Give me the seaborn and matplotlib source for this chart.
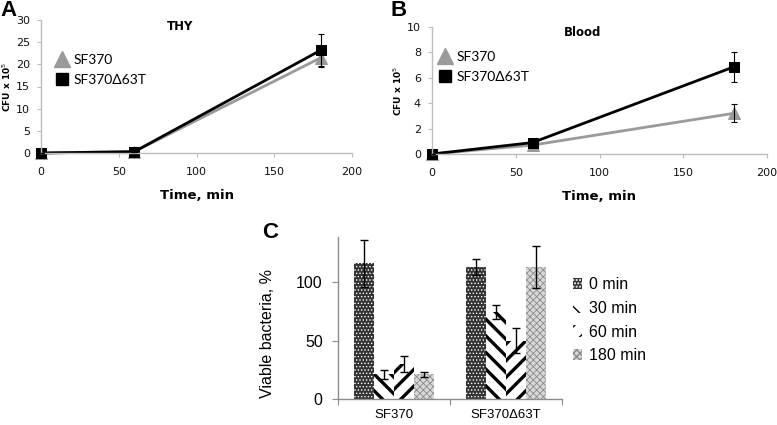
import numpy as np
import pandas as pd
import matplotlib
matplotlib.use("Agg")
import matplotlib.pyplot as plt
import seaborn as sns
from matplotlib.lines import Line2D

# ---------------- data ----------------
times = [0, 60, 180]
strains = ["SF370", "SF370\u039463T"]

thy_sf370 = [0.0, 0.3, 21.5]
thy_sf370_err = [0.0, 0.0, 2.0]
thy_mut = [0.0, 0.3, 23.2]
thy_mut_err = [0.0, 0.0, 3.6]

blood_sf370 = [0.0, 0.7, 3.2]
blood_sf370_err = [0.0, 0.0, 0.7]
blood_mut = [0.0, 0.9, 6.85]
blood_mut_err = [0.0, 0.0, 1.2]

c_times = ["0 min", "30 min", "60 min", "180 min"]
viable_sf370 = [116, 21, 30, 21]
viable_sf370_err = [20, 4, 7, 2]
viable_mut = [113, 74, 50, 113]
viable_mut_err = [7, 6, 11, 18]

# ---------------- style ----------------
sns.set_theme(style="white")
plt.rcParams["font.family"] = ["DejaVu Sans"]
plt.rcParams["text.color"] = "black"
plt.rcParams["axes.labelcolor"] = "black"
GRAY = "#9a9a9a"
SPINE = "#bdbdbd"
palette = {strains[0]: GRAY, strains[1]: "#000000"}

fig = plt.figure(figsize=(7.77, 4.25), dpi=100)
W, H = 777, 425


def ax_at(l, t, r, b):
    return fig.add_axes([l / W, 1 - b / H, (r - l) / W, (b - t) / H])


def line_panel(ax, s1, e1, s2, e2, ymax, ystep, title, tx, ty, ylx):
    df = pd.DataFrame({
        "time": times * 2,
        "cfu": list(s1) + list(s2),
        "strain": [strains[0]] * 3 + [strains[1]] * 3,
    })
    sns.lineplot(data=df, x="time", y="cfu", hue="strain", style="strain",
                 hue_order=strains, style_order=strains,
                 markers={strains[0]: "^", strains[1]: "s"}, dashes=False,
                 palette=palette, linewidth=2.0, legend=False, ax=ax)
    for ln, ms in zip(ax.lines, [8, 7]):
        ln.set_markersize(ms)
        ln.set_markeredgecolor(ln.get_color())
        ln.set_clip_on(False)
    ax.errorbar(times, s1, yerr=e1, fmt="none", ecolor="black", elinewidth=0.8,
                capsize=2.5, capthick=0.8, zorder=5)
    ax.errorbar(times, s2, yerr=e2, fmt="none", ecolor="black", elinewidth=0.8,
                capsize=2.5, capthick=0.8, zorder=5)
    ax.set_xlim(0, 200)
    ax.set_ylim(0, ymax)
    ax.set_xticks([0, 50, 100, 150, 200])
    ax.set_yticks(np.arange(0, ymax + 0.01, ystep))
    for s in ["top", "right"]:
        ax.spines[s].set_visible(False)
    for s in ["left", "bottom"]:
        ax.spines[s].set_color(SPINE)
        ax.spines[s].set_linewidth(1.0)
    ax.tick_params(axis="both", which="both", direction="out", length=3, width=0.8,
                   color=SPINE, labelsize=8, labelcolor="#111111",
                   left=True, bottom=True)
    ax.tick_params(axis="x", pad=7)
    ax.tick_params(axis="y", pad=5)
    ax.set_xlabel("Time, min", fontsize=9.5, fontweight="bold", labelpad=9)
    ax.set_ylabel(r"CFU x 10$^5$", fontsize=6.5, fontweight="bold")
    ax.yaxis.set_label_coords(ylx, 0.5)
    ax.text(tx, ty, title, transform=ax.transAxes, ha="center", va="center",
            fontsize=8.5, fontweight="bold")


axA = ax_at(41, 20, 352, 153)
line_panel(axA, thy_sf370, thy_sf370_err, thy_mut, thy_mut_err, 30, 5,
           "THY", (180 - 41) / 311, 1 - (26 - 20) / 133, (13 - 41) / 311)
axB = ax_at(432, 27, 767, 154)
line_panel(axB, blood_sf370, blood_sf370_err, blood_mut, blood_mut_err, 10, 2,
           "Blood", (583 - 432) / 335, 1 - (32 - 27) / 127, (404 - 432) / 335)

leg_handles = [
    Line2D([], [], marker="^", ls="none", color=GRAY, markersize=11),
    Line2D([], [], marker="s", ls="none", color="black", markersize=8.5),
]
for ax, x0, y0 in [(axA, 55, 54), (axB, 438, 51)]:
    ax.legend(leg_handles, strains, loc="upper left", frameon=False,
              bbox_to_anchor=(x0 / W, 1 - y0 / H), bbox_transform=fig.transFigure,
              prop={"family": "Lato", "size": 10}, handlelength=1.0,
              handletextpad=0.3, labelspacing=0.55, borderpad=0, borderaxespad=0)

# ---------------- panel C ----------------
axC = ax_at(338, 237, 562, 399)
dfc = pd.DataFrame({
    "strain": [strains[0]] * 4 + [strains[1]] * 4,
    "time": c_times * 2,
    "viable": viable_sf370 + viable_mut,
})
sns.barplot(data=dfc, x="strain", y="viable", hue="time", order=strains,
            hue_order=c_times, errorbar=None, width=0.72, legend=False,
            ax=axC)

styles = [
    dict(face="#333333", hatch=".....", hc="#ffffff", hlw=0.6),
    dict(face="#ffffff", hatch="\\\\", hc="#000000", hlw=2.4),
    dict(face="#ffffff", hatch="//", hc="#000000", hlw=2.4),
    dict(face="#d8d8d8", hatch="xxxxx", hc="#8a8a8a", hlw=0.6),
]
errs = [viable_sf370_err, viable_mut_err]
vals = [viable_sf370, viable_mut]
bar_conts = list(axC.containers)
for i, cont in enumerate(bar_conts):
    st = styles[i]
    for j, bar in enumerate(cont):
        bar.set_facecolor(st["face"])
        bar.set_edgecolor(st["hc"])
        bar.set_linewidth(0)
        bar.set_hatch(st["hatch"])
        if hasattr(bar, "set_hatch_linewidth"):
            bar.set_hatch_linewidth(st["hlw"])
        cx = bar.get_x() + bar.get_width() / 2
        axC.errorbar([cx], [vals[j][i]], yerr=[errs[j][i]], fmt="none",
                     ecolor="black", elinewidth=1.0, capsize=3, capthick=1.0,
                     zorder=5)

axC.set_xlim(-0.5, 1.5)
axC.set_ylim(0, 138.5)
axC.set_yticks([0, 50, 100])
axC.set_xticks([0, 1])
axC.set_xticklabels(strains)
axC.set_xticks([-0.5, 0.5, 1.5], minor=True)
for s in ["top", "right"]:
    axC.spines[s].set_visible(False)
for s in ["left", "bottom"]:
    axC.spines[s].set_color("#8c8c8c")
    axC.spines[s].set_linewidth(1.0)
axC.tick_params(axis="y", direction="out", length=4, width=0.8, color="#8c8c8c",
                labelsize=11.5, pad=7, left=True, labelcolor="black")
axC.tick_params(axis="x", which="major", length=0, labelsize=9.5, pad=7,
                labelcolor="black")
axC.tick_params(axis="x", which="minor", direction="out", length=4, width=0.8,
                color="#8c8c8c", bottom=True)
for lab in axC.get_yticklabels() + axC.get_xticklabels():
    lab.set_family("Liberation Sans")
axC.set_xlabel("")
axC.set_ylabel("Viable bacteria, %", fontsize=11.5, family="Liberation Sans")
axC.yaxis.set_label_coords((275 - 338) / 224, (399 - 333) / 162)

c_handles = [cont.patches[0] for cont in bar_conts]
fig.legend(c_handles, c_times, loc="upper left", frameon=False,
           bbox_to_anchor=(573 / W, 1 - 277 / H),
           prop={"family": "Liberation Sans", "size": 11.5}, handlelength=0.55,
           handleheight=0.7, handletextpad=0.45, labelspacing=0.55,
           borderpad=0, borderaxespad=0)

# panel letters
fig.text(0 / W, 1 - 10 / H, "A", fontsize=16, fontweight="bold",
         family="Liberation Sans", va="center", ha="left")
fig.text(390 / W, 1 - 10 / H, "B", fontsize=16, fontweight="bold",
         family="Liberation Sans", va="center", ha="left")
fig.text(262 / W, 1 - 232 / H, "C", fontsize=16, fontweight="bold",
         family="Liberation Sans", va="center", ha="left")

fig.savefig("out.png", dpi=100)
